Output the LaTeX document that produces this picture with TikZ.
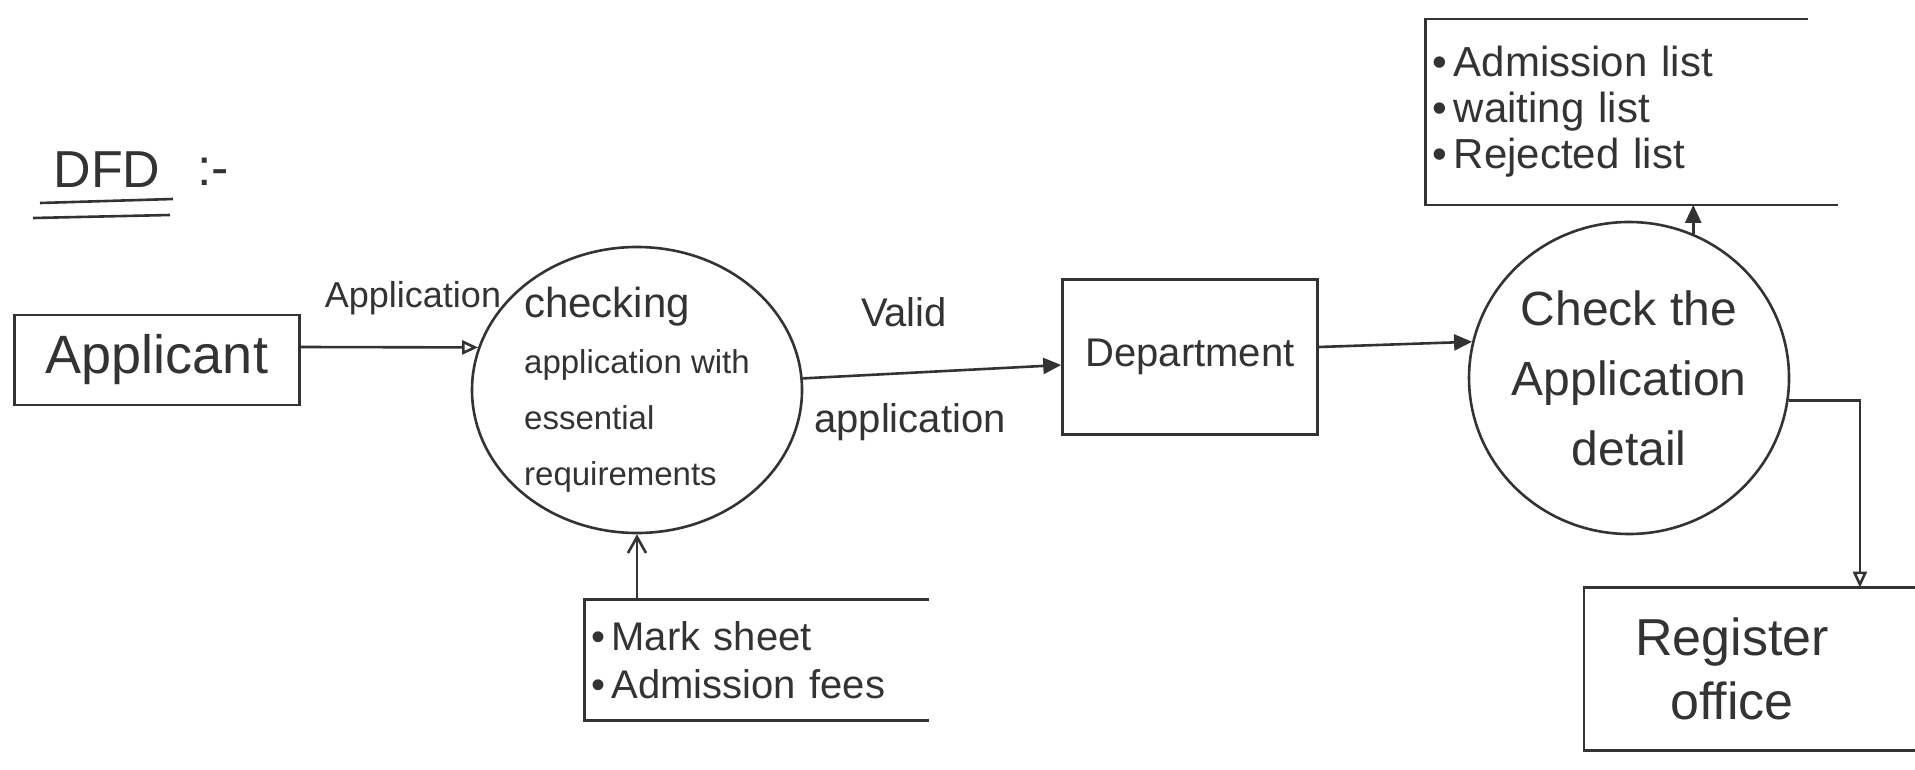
\documentclass[tikz,border=0pt]{standalone}
\usepackage{fontspec}
\setmainfont{Liberation Sans}
\usetikzlibrary{arrows.meta,calc,shapes.geometric}
\definecolor{ink}{HTML}{333333}
\begin{document}
\begin{tikzpicture}[x=0.5pt,y=-0.5pt,
  pen/.style={draw=ink,line width=1.3pt},
  every node/.style={text=ink},
  entity/.style={draw=ink,line width=1.3pt,rectangle,inner sep=2pt},
  process/.style={draw=ink,line width=1.3pt,ellipse,inner sep=-6pt},
  datastore/.style={rectangle,inner sep=3pt,align=left},
  flowo/.style={draw=ink,line width=1.3pt,-{Triangle[open,length=8pt,width=7pt]}},
  flowf/.style={draw=ink,line width=1.3pt,-{Triangle[length=9pt,width=8pt]}},
  flowb/.style={draw=ink,line width=1.3pt,-{Straight Barb[length=8pt,width=9pt]}},
  lbl/.style={font=\fontsize{20}{24}\selectfont}
]
\fill[white] (0,0) rectangle (1915,770);
\useasboundingbox (0,0) rectangle (1915,770);

% title
\node[font=\fontsize{26}{30}\selectfont] (dfd) at (107,170) {DFD};
\node[font=\fontsize{26}{30}\selectfont] (colon) at (213,172) {:-};
\draw[pen] (40,203) -- (173,199);
\draw[pen] (33,218) -- (170,215);

% nodes
\node[entity,minimum width=142.5pt,minimum height=45pt,font=\fontsize{27}{30}\selectfont] (app) at (157,360) {Applicant};

\node[process,minimum width=165pt,minimum height=143pt,align=left,font=\fontsize{16.5}{28}\selectfont] (c1) at (637,390)
  {{\fontsize{21}{28}\selectfont checking}\\application with\\essential\\requirements};

\node[entity,minimum width=127.5pt,minimum height=77.5pt,font=\fontsize{20}{24}\selectfont] (dept) at (1190,357) {Department};

\node[process,minimum width=160pt,minimum height=156pt,align=center,font=\fontsize{24}{35}\selectfont] (c2) at (1629,378)
  {Check the\\Application\\detail};

\node[datastore,minimum height=92.5pt,text width=200pt,font=\fontsize{21}{23}\selectfont] (list) at (1632,112)
  {\textbullet\,Admission list\\\textbullet\,waiting list\\\textbullet\,Rejected list};
\draw[pen] ($(list.north east)+(-30,0)$) -- (list.north west) -- (list.south west) -- (list.south east);

\node[datastore,minimum height=60pt,text width=166pt,font=\fontsize{20}{24}\selectfont] (docs) at (757,660)
  {\textbullet\,Mark sheet\\\textbullet\,Admission fees};
\draw[pen] (docs.north east) -- (docs.north west) -- (docs.south west) -- (docs.south east);

\node[rectangle,inner sep=2pt,minimum width=147.5pt,minimum height=81pt,align=center,font=\fontsize{26}{32}\selectfont] (reg) at (1732,669)
  {Register\\office};
\draw[pen] ($(reg.north east)+(40,0)$) -- (reg.north west) -- (reg.south west) -- ($(reg.south east)+(40,0)$);

% labels
\node[font=\fontsize{18}{20}\selectfont] (lapp) at (413,298) {Application};
\node[lbl] (lvalid) at (904,312) {Valid};
\node[lbl] (lvapp) at (910,422) {application};

% connectors
\draw[flowo] ($(app.east)+(0,-13)$) -- (c1.165);
\draw[flowf] (c1.4) -- ($(dept.west)+(0,8)$);
\draw[flowf] ($(dept.east)+(0,-10)$) -- (c2.167);
\draw[flowf] (c2.66) -- (c2.66 |- list.south);
\draw[flowo] (c2.-8) -| ($(reg.north east)+(-20,0)$);
\draw[flowb] (c1.south |- docs.north) -- (c1.south);
\end{tikzpicture}
\end{document}
